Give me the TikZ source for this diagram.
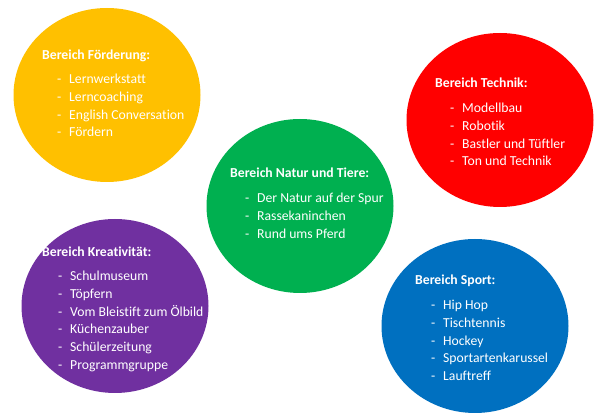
\documentclass[tikz,border=0pt]{standalone}
\usepackage{fontspec}
\setmainfont{Carlito}[Ligatures=NoCommon]
\usetikzlibrary{shapes.geometric}
\definecolor{cyellow}{HTML}{FFC000}
\definecolor{cred}{HTML}{FF0000}
\definecolor{cgreen}{HTML}{00B050}
\definecolor{cpurple}{HTML}{7030A0}
\definecolor{cblue}{HTML}{0070C0}
\newcommand{\itm}{\makebox[12pt][l]{-}}
\tikzset{
  blob/.style={ellipse, draw=none, inner sep=0pt, minimum width=187pt, minimum height=174pt},
  ttl/.style={anchor=base west, inner sep=0pt, text=white, font=\fontsize{13.7}{17.8}\selectfont\bfseries},
  lst/.style={anchor=base west, inner sep=0pt, text=white, font=\fontsize{13.7}{17.8}\selectfont, align=left},
}
\begin{document}
\begin{tikzpicture}[x=1pt,y=-1pt]
\useasboundingbox (0,0) rectangle (598,419);
\node[blob, fill=cyellow] (yel) at (107,95) {};
\node[blob, fill=cred] (red) at (500,120) {};
\node[blob, fill=cgreen] (grn) at (300,206) {};
\node[blob, fill=cpurple] (pur) at (115,306) {};
\node[blob, fill=cblue] (blu) at (475,326) {};

\node[ttl] (yelT) at (42,59.5) {Bereich Förderung:};
\node[lst] (yelL) at (57,83.5) {\begin{tabular}[t]{@{}l@{}l@{}}
\itm & Lernwerkstatt\\ \itm & Lerncoaching\\ \itm & English Conversation\\ \itm & Fördern\end{tabular}};

\node[ttl] (redT) at (435,87.5) {Bereich Technik:};
\node[lst] (redL) at (450,112.5) {\begin{tabular}[t]{@{}l@{}l@{}}
\itm & Modellbau\\ \itm & Robotik\\ \itm & Bastler und Tüftler\\ \itm & Ton und Technik\end{tabular}};

\node[ttl] (grnT) at (230,177.5) {Bereich Natur und Tiere:};
\node[lst] (grnL) at (245,202.5) {\begin{tabular}[t]{@{}l@{}l@{}}
\itm & Der Natur auf der Spur\\ \itm & Rassekaninchen\\ \itm & Rund ums Pferd\end{tabular}};

\node[ttl] (purT) at (42,256.5) {Bereich Kreativität:};
\node[lst] (purL) at (58,280.5) {\begin{tabular}[t]{@{}l@{}l@{}}
\itm & Schulmuseum\\ \itm & Töpfern\\ \itm & Vom Bleistift zum Ölbild\\ \itm & Küchenzauber\\ \itm & Schülerzeitung\\ \itm & Programmgruppe\end{tabular}};

\node[ttl] (bluT) at (415,284.5) {Bereich Sport:};
\node[lst] (bluL) at (431,309.5) {\begin{tabular}[t]{@{}l@{}l@{}}
\itm & Hip Hop\\ \itm & Tischtennis\\ \itm & Hockey\\ \itm & Sportartenkarussel\\ \itm & Lauftreff\end{tabular}};
\end{tikzpicture}
\end{document}
